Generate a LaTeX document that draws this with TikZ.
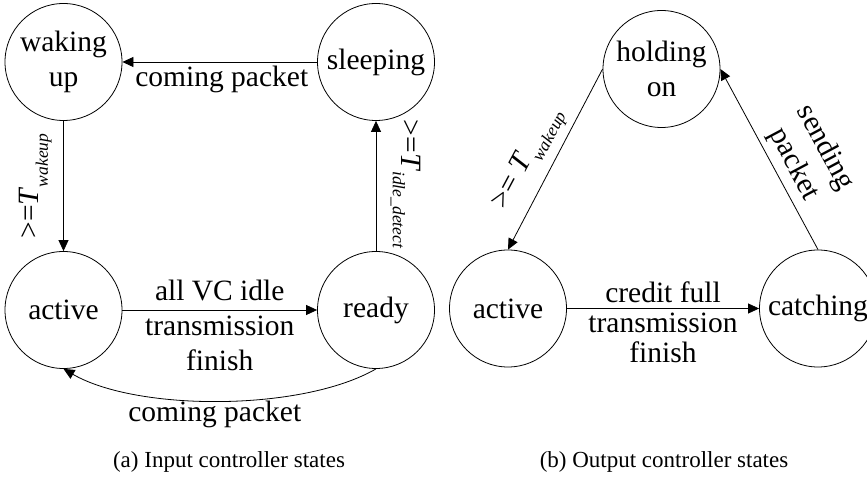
\documentclass[tikz,border=0pt]{standalone}
\usepackage{fontspec}
\setmainfont{Liberation Serif}
\usetikzlibrary{arrows.meta}
\newcommand\tsub[1]{\raisebox{-9pt}{\fontsize{17.5}{17.5}\selectfont\itshape #1}}
\begin{document}
\begin{tikzpicture}[x=1pt,y=1pt,line width=0.8pt,
  >={Triangle[length=11pt,width=10pt]},
  state/.style={draw,circle,minimum size=117pt,inner sep=0pt,align=center,
    font=\fontsize{29.5}{35}\selectfont},
  lbl/.style={align=center,inner sep=0pt,font=\fontsize{29.5}{35}\selectfont},
  caption/.style={font=\fontsize{23}{27}\selectfont}]
  \useasboundingbox (0,0) rectangle (867,479);
  % (a) input controller
  \node[state] (wake) at (63.5,417) {waking\\up};
  \node[state] (sleep) at (376,417) {sleeping};
  \node[state] (act) at (63.5,169) {active};
  \node[state] (ready) at (376,169) {ready};
  \draw[->] (sleep) -- node[lbl,xshift=2pt,yshift=-17pt] {coming packet} (wake);
  \draw[->] (wake) -- node[lbl,xshift=-28pt,rotate=90] {>=\textit{T}\tsub{wakeup}} (act);
  \draw[->] (act) -- node[lbl,yshift=-15pt] {all VC idle\\transmission\\finish} (ready);
  \draw[->] (ready) -- node[lbl,xshift=30pt,yshift=2pt,rotate=-90] {>=\textit{T}\tsub{idle\_detect}} (sleep);
  \draw[->] (ready.south) to[out=-150,in=-30,looseness=0.7]
    node[lbl,xshift=-5pt,yshift=-14pt] {coming packet} (act.south);
  % (b) output controller
  \node[state] (hold) at (661.5,410) {holding\\on};
  \node[state] (actb) at (508,170.5) {active};
  \node[state] (catch) at (818,170.5) {catching};
  \draw[->] (hold.west) -- node[lbl,xshift=-26pt,rotate=62] {>= \textit{T}\tsub{wakeup}} (actb.north);
  \draw[->] (actb) -- node[lbl,yshift=-14pt,font=\fontsize{29.5}{30}\selectfont]
    {credit full\\transmission\\finish} (catch);
  \draw[->] (catch.north) -- node[lbl,xshift=40pt,yshift=3pt,rotate=-62] {sending\\packet} (hold.east);
  % captions
  \node[caption] (capa) at (229,17) {(a) Input controller states};
  \node[caption] (capb) at (664,17) {(b) Output controller states};
\end{tikzpicture}
\end{document}
